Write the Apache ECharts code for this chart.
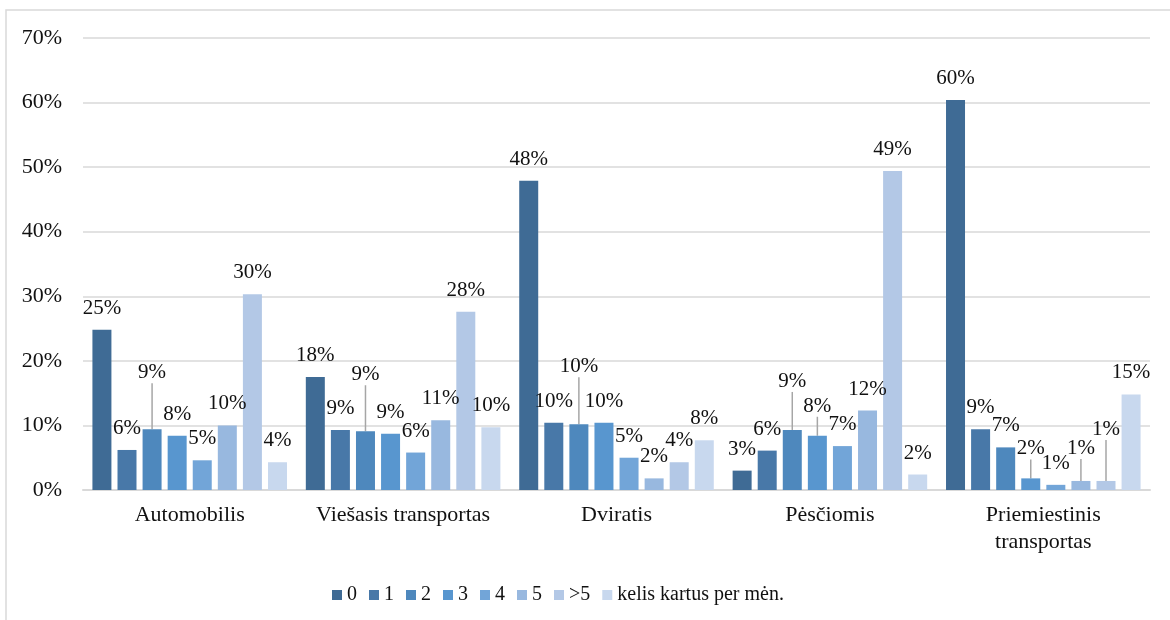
<!DOCTYPE html>
<html>
<head>
<meta charset="utf-8">
<script src="https://cdn.jsdelivr.net/npm/echarts@6/dist/echarts.min.js"></script>
<style>
  html, body { margin: 0; padding: 0; background: #fff; }
  #chart { width: 1170px; height: 620px; }
</style>
</head>
<body>
<div id="chart"></div>
<script>
// kategorijos
var categories = ['Automobilis', 'Viešasis transportas', 'Dviratis', 'Pėsčiomis', 'Priemiestinis\ntransportas']
var seriesNames = ['0', '1', '2', '3', '4', '5', '>5', 'kelis kartus per mėn.']

// reikšmės, %
var s0 = [24.8, 17.5, 47.9, 3.0, 60.4]
var s1 = [6.2, 9.3, 10.4, 6.1, 9.4]
var s2 = [9.4, 9.1, 10.2, 9.3, 6.6]
var s3 = [8.4, 8.7, 10.4, 8.4, 1.8]
var s4 = [4.6, 5.8, 5.0, 6.8, 0.8]
var s5 = [10.0, 10.8, 1.8, 12.3, 1.4]
var s6 = [30.3, 27.6, 4.3, 49.4, 1.4]
var s7 = [4.3, 9.7, 7.7, 2.4, 14.8]
var values = [s0, s1, s2, s3, s4, s5, s6, s7]

var yTicks = [0, 10, 20, 30, 40, 50, 60, 70]

var colors = ['#3f6b95', '#4878a8', '#4e88bd', '#5896cf', '#72a5d8', '#98b8df', '#b3c8e6', '#c8d8ee']
var font = "'Liberation Serif', 'Times New Roman', serif"

// labels pushed up with a leader line (series index -> category index -> dy)
var labelShift = {
  2: { 0: -35, 1: -35, 2: -36, 3: -27 },
  3: { 3: -8, 4: -8 },
  5: { 4: -11 },
  6: { 4: -30 }
}

var myChart = echarts.init(document.getElementById('chart'))

var series = seriesNames.map(function (name, i) {
  var sh = labelShift[i] || {}
  return {
    name: name,
    type: 'bar',
    data: values[i].map(function (v, j) {
      return sh[j] != null ? { value: v, labelLine: { show: true } } : v
    }),
    barWidth: 19,
    barGap: '32%',
    itemStyle: { color: colors[i] },
    label: {
      show: true,
      position: 'top',
      distance: 11,
      color: '#111',
      fontFamily: font,
      fontSize: 21,
      formatter: function (p) { return Math.round(p.value) + '%' }
    },
    labelLine: {
      show: false,
      lineStyle: { color: '#a6a6a6', width: 1.5 }
    },
    labelLayout: function (p) {
      if (sh[p.dataIndex] != null) {
        return { dy: sh[p.dataIndex] }
      }
      return {}
    }
  }
})

var option = {
  animation: false,
  backgroundColor: '#fff',
  textStyle: { fontFamily: font },
  graphic: [{
    type: 'rect',
    shape: { x: 6, y: 10, width: 1200, height: 700 },
    style: { fill: 'none', stroke: '#d9d9d9', lineWidth: 1.5 },
    silent: true,
    z: -1
  }],
  grid: {
    left: 83,
    right: 20,
    top: 38,
    bottom: 130
  },
  legend: {
    data: seriesNames,
    left: 327,
    top: 580,
    icon: 'rect',
    itemWidth: 10,
    itemHeight: 10,
    itemGap: 12,
    textStyle: { fontFamily: font, fontSize: 20, color: '#111' }
  },
  xAxis: {
    type: 'category',
    data: categories,
    axisTick: { show: false },
    axisLine: { lineStyle: { color: '#d9d9d9', width: 2 } },
    axisLabel: {
      interval: 0,
      margin: 12,
      color: '#111',
      fontFamily: font,
      fontSize: 22,
      lineHeight: 27
    }
  },
  yAxis: {
    type: 'value',
    min: yTicks[0],
    max: yTicks[yTicks.length - 1],
    interval: 10,
    axisLine: { show: false },
    axisTick: { show: false },
    splitLine: { lineStyle: { color: '#d9d9d9', width: 1.5 } },
    axisLabel: {
      margin: 21,
      color: '#111',
      fontFamily: font,
      fontSize: 22,
      formatter: '{value}%'
    }
  },
  series: series
}

myChart.setOption(option)
</script>
</body>
</html>
